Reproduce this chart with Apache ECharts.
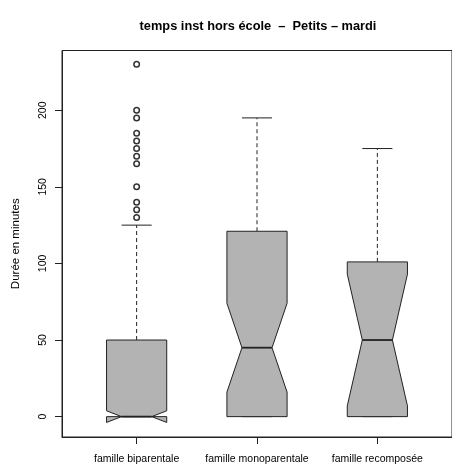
<!DOCTYPE html>
<html><head><meta charset="utf-8">
<script src="https://cdn.jsdelivr.net/npm/echarts@6/dist/echarts.min.js"></script>
<style>html,body{margin:0;padding:0;background:#fff}#c{width:452px;height:465px}</style>
</head><body><div id="c"></div>
<script>
const categories = ['famille biparentale', 'famille monoparentale', 'famille recomposée'];
const lowerWhisker = [0, 0, 0];
const q1 = [0, 0, 0];
const median = [0, 45, 50];
const q3 = [50, 121, 101];
const upperWhisker = [125, 195, 175];
const notchLow = [-3.8, 16, 7];
const notchHigh = [3.8, 74, 93];
const outliersBiparentale = [230, 200, 195, 185, 180, 175, 170, 165, 150, 140, 135, 130];
const yTicks = [0, 50, 100, 150, 200];
const xTicks = [1, 2, 3];
const titleText = 'temps inst hors école  –  Petits – mardi';
const yName = 'Durée en minutes';

const FONT = '"Liberation Sans", Arial, Helvetica, sans-serif';
const boxData = categories.map((c, i) => [i + 1, lowerWhisker[i], q1[i], median[i], q3[i], upperWhisker[i], notchLow[i], notchHigh[i]]);
const outlierData = outliersBiparentale.map(v => [1, v]);

const HALF = 0.25, NOTCH = 0.125, CAP = 0.125;
const EDGE = '#222', FILL = '#b3b3b3';

function renderItem(params, api) {
  const x = api.value(0);
  const lw = api.value(1), a = api.value(2), m = api.value(3), b = api.value(4);
  const hw = api.value(5), nl = api.value(6), nh = api.value(7);
  const p = (dx, y) => api.coord([x + dx, y]);
  const poly = [p(-NOTCH, m), p(-HALF, nl), p(-HALF, a), p(HALF, a), p(HALF, nl),
                p(NOTCH, m), p(HALF, nh), p(HALF, b), p(-HALF, b), p(-HALF, nh)];
  const seg = (p1, p2, dash, w) => ({
    type: 'line',
    shape: { x1: p1[0], y1: p1[1], x2: p2[0], y2: p2[1] },
    style: { stroke: EDGE, lineWidth: w || 1, lineDash: dash || null }
  });
  return {
    type: 'group',
    children: [
      seg(p(0, b), p(0, hw), [4, 3]),
      seg(p(0, a), p(0, lw), [4, 3]),
      seg(p(-CAP, hw), p(CAP, hw)),
      seg(p(-CAP, lw), p(CAP, lw)),
      { type: 'polygon', shape: { points: poly }, style: { fill: FILL, stroke: EDGE, lineWidth: 1 } },
      seg(p(-NOTCH, m), p(NOTCH, m), null, 1.8)
    ]
  };
}

const chart = echarts.init(document.getElementById('c'), null, { renderer: 'canvas' });
chart.setOption({
  animation: false,
  backgroundColor: '#fff',
  title: {
    text: titleText, left: 253, top: 15, textAlign: 'center',
    textStyle: { fontFamily: FONT, fontSize: 12.8, fontWeight: 'bold', color: '#000' }
  },
  grid: { left: 62, right: -3, top: 50.5, bottom: 25, show: true, borderColor: EDGE, borderWidth: 1, backgroundColor: 'transparent' },
  xAxis: {
    type: 'value', min: 0.38, max: 3.62,
    axisLine: { show: true, onZero: false, lineStyle: { color: EDGE } },
    splitLine: { show: false },
    axisTick: { show: true, length: 7, customValues: xTicks, lineStyle: { color: EDGE } },
    axisLabel: {
      customValues: xTicks, margin: 17, color: '#000', fontFamily: FONT, fontSize: 10.5,
      formatter: v => categories[Math.round(v) - 1] || ''
    }
  },
  yAxis: {
    type: 'value', min: -13.3, max: 239,
    name: yName, nameLocation: 'middle', nameRotate: 90, nameGap: 40,
    nameTextStyle: { fontFamily: FONT, fontSize: 11.5, color: '#000' },
    axisLine: { show: true, onZero: false, lineStyle: { color: EDGE } },
    splitLine: { show: false },
    axisTick: { show: true, length: 7, customValues: yTicks, lineStyle: { color: EDGE } },
    axisLabel: { customValues: yTicks, rotate: 90, margin: 13, color: '#000', fontFamily: FONT, fontSize: 10.5 }
  },
  series: [
    { type: 'custom', renderItem: renderItem, data: boxData, encode: { x: 0, y: [1, 2, 3, 4, 5, 6, 7] }, clip: false },
    { type: 'scatter', data: outlierData, symbol: 'circle', symbolSize: 5.5,
      itemStyle: { color: '#fff', borderColor: '#000', borderWidth: 1.5 } }
  ]
});
</script>
</body></html>
